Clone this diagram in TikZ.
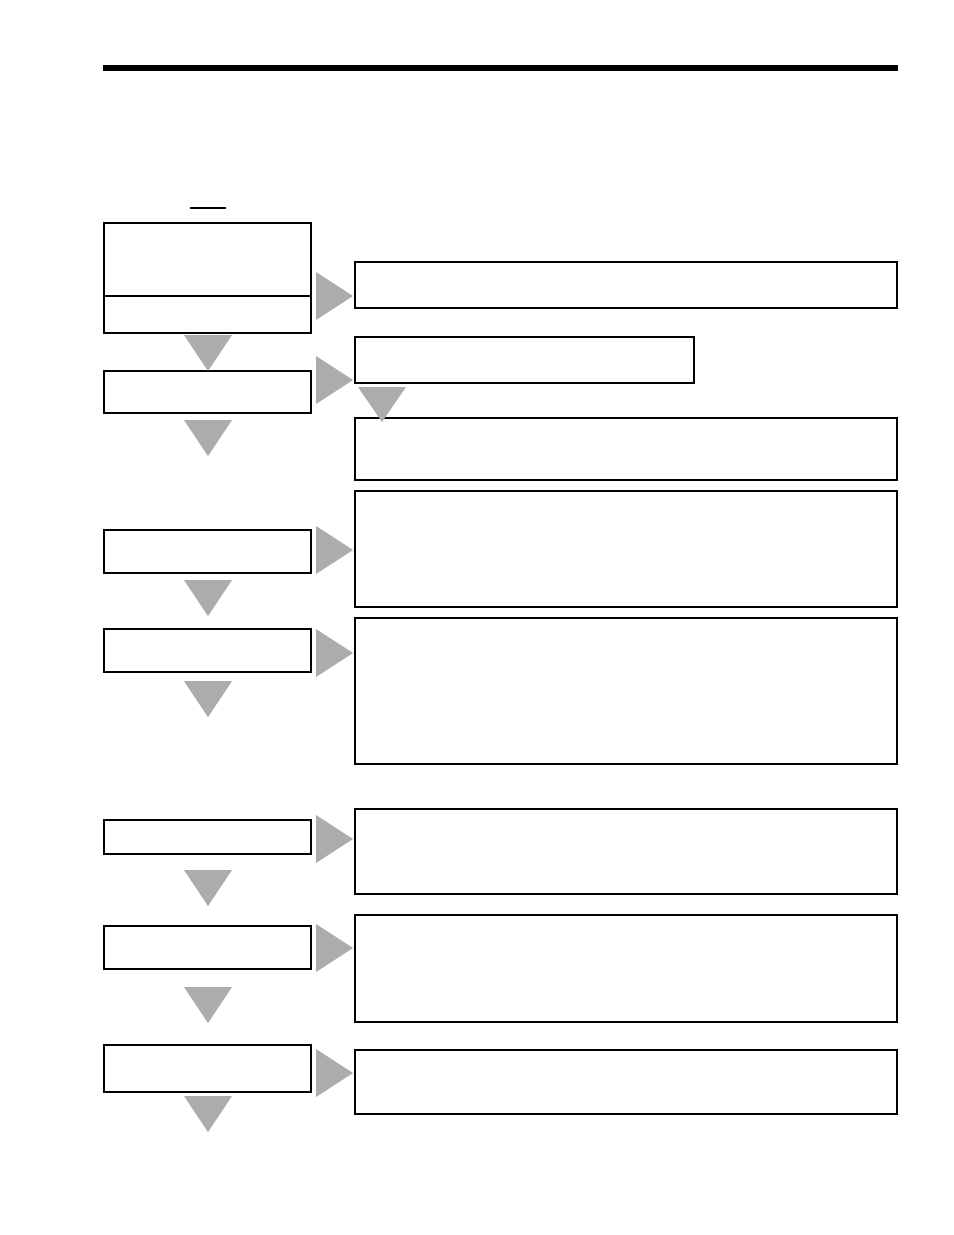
\documentclass[tikz,border=0pt]{standalone}
\usepackage{tikz}
\begin{document}
\begin{tikzpicture}[x=0.02cm, y=-0.02cm,
    stepbox/.style={draw, line width=0.6pt},
    downtri/.style={fill=gray!65},
    righttri/.style={fill=gray!65}]
    % Frame
    \useasboundingbox (0,0) rectangle (954,1235);
    \fill (103,65) rectangle (898,71);
    \draw[line width=0.6pt] (190,208) -- (226,208);

    % Left boxes
    \draw[stepbox] (104,223) rectangle (311,333);
    \draw[stepbox] (103,296) -- (311,296);
    \foreach \ya/\yb in {371/413, 530/573, 629/672, 820/854, 926/969, 1045/1092}
        \draw[stepbox] (104,\ya) rectangle (311,\yb);

    % Right boxes
    \draw[stepbox] (355,337) rectangle (694,383);
    \foreach \ya/\yb in {262/308, 418/480, 491/607, 618/764, 809/894, 915/1022, 1050/1114}
        \draw[stepbox] (355,\ya) rectangle (897,\yb);

    % Down arrows
    \foreach \y in {335, 420, 580, 681, 870, 987, 1096}
        \fill[downtri] (184,\y) -- (232,\y) -- (208,\y+36) -- cycle;
    \fill[downtri] (358,387) -- (406,387) -- (382,422) -- cycle;

    % Right arrows
    \foreach \y in {296, 380, 550, 653, 839, 948, 1073}
        \fill[righttri] (316,\y-24) -- (353,\y) -- (316,\y+24) -- cycle;
\end{tikzpicture}
\end{document}
